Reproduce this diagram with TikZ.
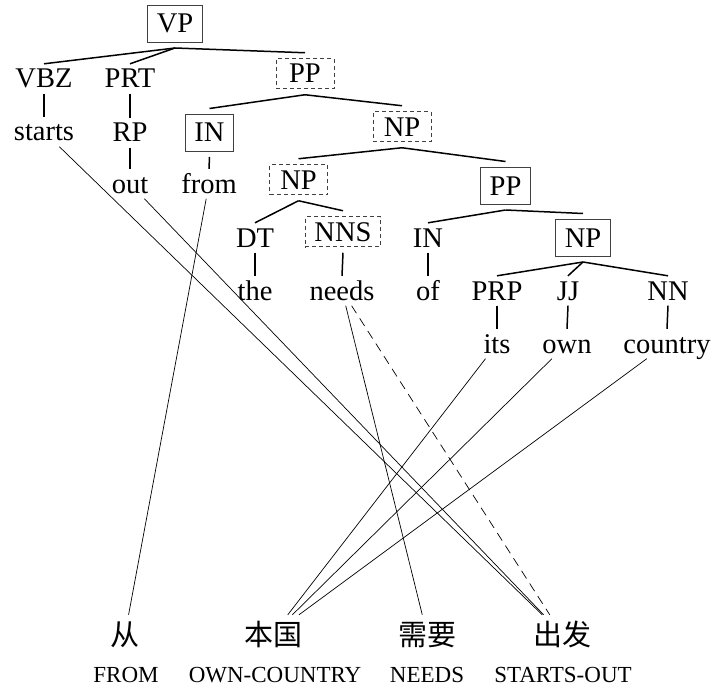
\documentclass[tikz,border=0pt]{standalone}
\usepackage{fontspec}
\setmainfont{Liberation Serif}
\newfontfamily\cjk{Noto Sans CJK SC}
\begin{document}
\begin{tikzpicture}[x=1pt,y=-1pt,
  lbl/.style={font=\fontsize{28.5}{30}\selectfont, anchor=base, inner xsep=0pt, inner ysep=5.5pt, text height=18.5pt, text depth=0pt},
  sbox/.style={lbl, draw=black!75, line width=0.9pt, inner xsep=9pt, inner ysep=9pt, outer xsep=0pt, outer ysep=6pt},
  dbox/.style={lbl, draw=black!75, line width=0.9pt, dash pattern=on 4pt off 3pt, inner xsep=9pt, inner ysep=5.75pt, minimum width=58pt, outer xsep=0pt, outer ysep=6pt},
  zh/.style={font=\cjk\fontsize{29}{31}\selectfont, anchor=base, inner xsep=2pt, inner ysep=4.5pt, text height=25.5pt, text depth=3.5pt},
  gl/.style={font=\fontsize{23}{25}\selectfont, anchor=base, inner sep=0pt},
  tree/.style={line width=1.5pt},
  alignln/.style={line width=0.7pt},
  alignd/.style={line width=0.7pt, dash pattern=on 9pt off 6pt},
]
\useasboundingbox (0,0) rectangle (712,690);
% tree nodes
\node[sbox] (vp) at (175,33) {VP};
\node[lbl] (vbz) at (44,88) {VBZ};
\node[lbl] (prt) at (130,88) {PRT};
\node[dbox] (pp1) at (305,83) {PP};
\node[lbl] (starts) at (44,141) {starts};
\node[lbl] (rp) at (130,142) {RP};
\node[sbox] (in1) at (209.5,142) {IN};
\node[dbox] (np1) at (402,136) {NP};
\node[lbl] (out) at (130,193) {out};
\node[lbl] (from) at (209,193) {from};
\node[dbox] (np2) at (298.5,189) {NP};
\node[sbox] (pp2) at (505.5,195) {PP};
\node[lbl] (dt) at (255,247) {DT};
\node[dbox] (nns) at (343,241) {NNS};
\node[lbl] (in2) at (428,247) {IN};
\node[sbox] (np3) at (583,247) {NP};
\node[lbl] (the) at (255,300) {the};
\node[lbl] (needs) at (342,300) {needs};
\node[lbl] (of) at (428,300) {of};
\node[lbl] (prp) at (497,300) {PRP};
\node[lbl] (jj) at (568,300) {JJ};
\node[lbl] (nn) at (668,300) {NN};
\node[lbl] (its) at (497,353) {its};
\node[lbl] (own) at (567,353) {own};
\node[lbl] (country) at (667,353) {country};
% Chinese words
\node[zh] (c1) at (125,645) {从};
\node[zh] (c2) at (273,645) {本国};
\node[zh] (c3) at (427,645) {需要};
\node[zh] (c4) at (562,645) {出发};
% glosses
\node[gl] (g1) at (126,682) {FROM};
\node[gl] (g2) at (275,682) {OWN-COUNTRY};
\node[gl] (g3) at (427,682) {NEEDS};
\node[gl] (g4) at (563,682) {STARTS-OUT};
% tree edges
\draw[tree] (vp.south) -- (vbz.north);
\draw[tree] (vp.south) -- (prt.north);
\draw[tree] (vp.south) -- (pp1.north);
\draw[tree] (vbz.south) -- (starts.north);
\draw[tree] (prt.south) -- (rp.north);
\draw[tree] (rp.south) -- (out.north);
\draw[tree] (pp1.south) -- (in1.north);
\draw[tree] (pp1.south) -- (np1.north);
\draw[tree] (in1.south) -- (from.north);
\draw[tree] (np1.south) -- (np2.north);
\draw[tree] (np1.south) -- (pp2.north);
\draw[tree] (np2.south) -- (dt.north);
\draw[tree] (np2.south) -- (nns.north);
\draw[tree] (pp2.south) -- (in2.north);
\draw[tree] (pp2.south) -- (np3.north);
\draw[tree] (dt.south) -- (the.north);
\draw[tree] (nns.south) -- (needs.north);
\draw[tree] (in2.south) -- (of.north);
\draw[tree] (np3.south) -- (prp.north);
\draw[tree] (np3.south) -- (jj.north);
\draw[tree] (np3.south) -- (nn.north);
\draw[tree] (prp.south) -- (its.north);
\draw[tree] (jj.south) -- (own.north);
\draw[tree] (nn.south) -- (country.north);
% alignment links
\draw[alignln] (starts) -- (c4);
\draw[alignln] (out) -- (c4);
\draw[alignln] (from) -- (c1);
\draw[alignln] (needs) -- (c3);
\draw[alignd] (needs) -- (c4);
\draw[alignln] (its) -- (c2);
\draw[alignln] (own) -- (c2);
\draw[alignln] (country) -- (c2);
\end{tikzpicture}
\end{document}
